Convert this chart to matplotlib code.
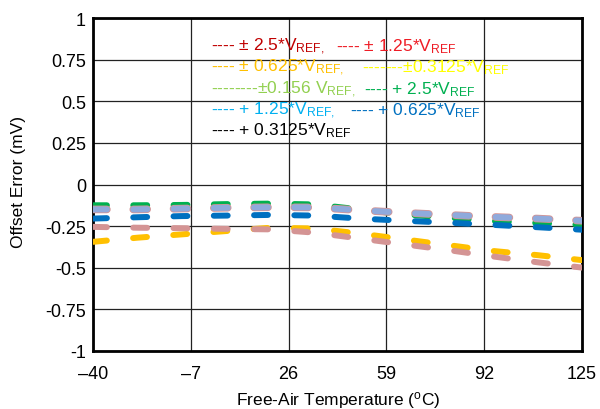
import matplotlib
matplotlib.use("Agg")
import matplotlib.pyplot as plt

plt.rcParams['font.family'] = ['Liberation Sans', 'DejaVu Sans']
plt.rcParams['mathtext.default'] = 'regular'
plt.rcParams['lines.scale_dashes'] = False

# temperature points (°C)
temps = [-40, -25, -10, 5, 20, 35, 50, 65, 80, 95, 110, 125]

# offset error (mV) for the visible curves
green_vals = [-0.125, -0.125, -0.123, -0.118, -0.115, -0.12, -0.15, -0.18, -0.2, -0.22, -0.232, -0.243]
grayblue_vals = [-0.15, -0.15, -0.145, -0.14, -0.137, -0.138, -0.155, -0.17, -0.183, -0.195, -0.205, -0.218]
blue_vals = [-0.205, -0.197, -0.19, -0.187, -0.183, -0.187, -0.205, -0.218, -0.23, -0.243, -0.257, -0.272]
pink_vals = [-0.255, -0.26, -0.263, -0.267, -0.27, -0.29, -0.325, -0.36, -0.395, -0.433, -0.468, -0.5]
yellow_vals = [-0.345, -0.32, -0.30, -0.28, -0.26, -0.265, -0.295, -0.33, -0.365, -0.40, -0.425, -0.455]

xticks = [-40, -7, 26, 59, 92, 125]
xtick_labels = ['\u201340', '\u20137', '26', '59', '92', '125']
yticks = [-1, -0.75, -0.5, -0.25, 0, 0.25, 0.5, 0.75, 1]
ytick_labels = ['-1', '-0.75', '-0.5', '-0.25', '0', '0.25', '0.5', '0.75', '1']

legend_rows = [
    [('---- \u00b1 2.5*V$_{REF,}$', '#c00000'), ('---- \u00b1 1.25*V$_{REF}$', '#ee1c25')],
    [('---- \u00b1 0.625*V$_{REF,}$', '#ffc000'), ('-------\u00b10.3125*V$_{REF}$', '#ffff00')],
    [('--------\u00b10.156 V$_{REF,}$', '#92d050'), ('---- + 2.5*V$_{REF}$', '#00b050')],
    [('---- + 1.25*V$_{REF,}$', '#00b0f0'), ('---- + 0.625*V$_{REF}$', '#0070c0')],
    [('---- + 0.3125*V$_{REF}$', '#000000')],
]
col2_x = [336, 362, 364, 350]

fig = plt.figure(figsize=(6, 4.1), dpi=100)
ax = fig.add_axes([93/600, 1-351.7/410, (582-93)/600, (351.7-19.3)/410])

lw = 4.3
dash = (10, 19)
def dline(y, color, width=lw, z=3):
    ln, = ax.plot(temps, y, color=color, lw=width, zorder=z)
    ln.set_dashes(dash)
    ln.set_dash_capstyle('round')

dline(green_vals, '#00b050', z=3)
dline(grayblue_vals, '#d49494', width=lw+1.2, z=4)
dline(grayblue_vals, '#8faadc', z=5)
dline(blue_vals, '#0070c0', z=6)
dline(yellow_vals, '#ffc000', z=3)
dline(pink_vals, '#d49494', z=4)

ax.set_xlim(-40, 125)
ax.set_ylim(-1, 1)
ax.set_xticks(xticks)
ax.set_xticklabels(xtick_labels)
ax.set_yticks(yticks)
ax.set_yticklabels(ytick_labels)
ax.tick_params(length=0, labelsize=13)
ax.tick_params(axis='x', pad=10)
ax.tick_params(axis='y', pad=5)
ax.grid(True, color='#222222', lw=0.9, zorder=1)
for s in ax.spines.values():
    s.set_linewidth(2)
    s.set_color('black')

ax.set_xlabel('Free-Air Temperature ($^{o}$C)', fontsize=12.5, va='center')
ax.set_ylabel('Offset Error (mV)', fontsize=12.5, va='center')
ax.xaxis.set_label_coords(0.501, -0.148)
ax.yaxis.set_label_coords(-0.153, 0.511)

row_y = [46.7, 68, 89.5, 110.5, 131]
for i, row in enumerate(legend_rows):
    fig.text(211/600, 1-row_y[i]/410, row[0][0], color=row[0][1], fontsize=12.5,
             va='center', ha='left')
    if len(row) > 1:
        fig.text(col2_x[i]/600, 1-row_y[i]/410, row[1][0], color=row[1][1], fontsize=12.5,
                 va='center', ha='left')

fig.savefig('out.png', dpi=100)
